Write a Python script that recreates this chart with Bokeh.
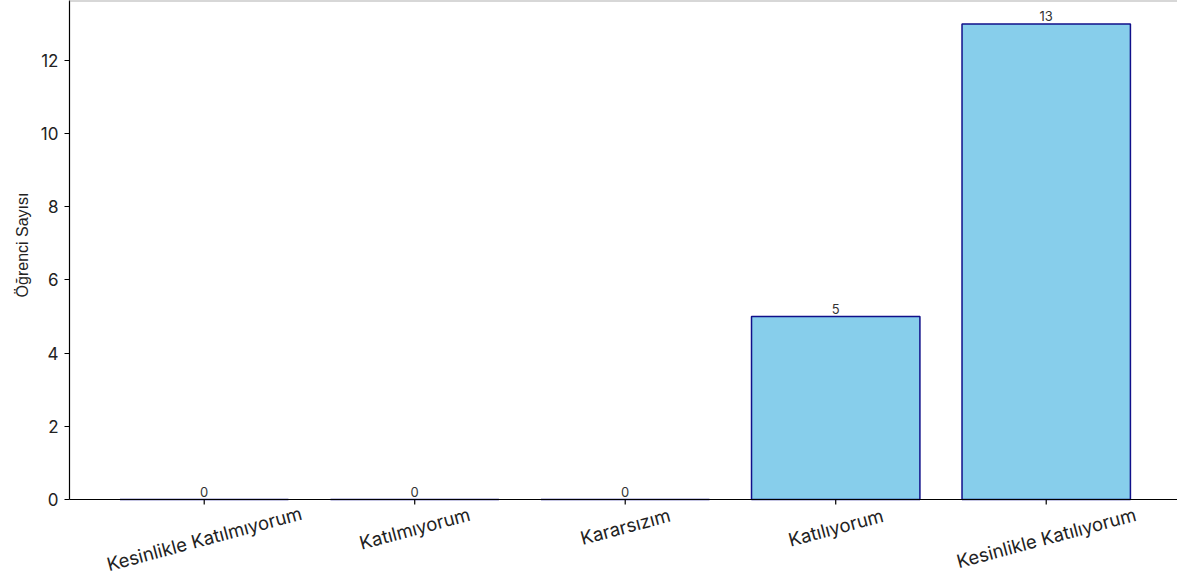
from bokeh.plotting import figure
from bokeh.models import Span, FixedTicker, ColumnDataSource, Range1d, Title
from bokeh.core.properties import value
from bokeh.embed import file_html
from bokeh.resources import INLINE
import math

categories = ["Kesinlikle Katılmıyorum", "Katılmıyorum", "Kararsızım", "Katılıyorum", "Kesinlikle Katılıyorum"]
counts = [0, 0, 0, 5, 13]
y_ticks = [0, 2, 4, 6, 8, 10, 12]
y_title = "Öğrenci Sayısı"

xs = list(range(len(categories)))
src = ColumnDataSource(dict(x=xs, top=counts, label=[str(c) for c in counts]))

Y_END = 13.64
PLOT_H = 499            # px from top of frame to the value 0
FRAME_H = 577
PX_PER_UNIT = PLOT_H / Y_END
Y_START = Y_END - FRAME_H / PX_PER_UNIT
X_START = -0.64
X_PX_PER_UNIT = 210.5

p = figure(output_backend="svg", toolbar_location=None,
           frame_width=1108, frame_height=FRAME_H,
           x_range=Range1d(X_START, X_START + 1108 / X_PX_PER_UNIT), y_range=Range1d(Y_START, Y_END),
           min_border_left=69, min_border_right=0, min_border_top=0, min_border_bottom=0)
p.outline_line_color = None
p.xgrid.grid_line_color = None
p.ygrid.grid_line_color = None
p.xaxis.visible = False

p.vbar(x="x", top="top", bottom=0, width=0.8, source=src,
       fill_color="#87CEEB", line_color="#10108a", line_width=1.5)

p.text(x="x", y="top", text="label", source=src, text_align="center",
       text_baseline="bottom", y_offset=-3, text_font=value("Inter"),
       text_font_size="13px", text_color="#333333")

# spines
p.add_layout(Span(location=Y_END, dimension="width", line_color="#b0b0b0", line_width=2))
p.add_layout(Span(location=0, dimension="width", line_color="black", line_width=1.2))

# x ticks and rotated category labels centred under each tick
p.segment(x0=xs, y0=[0] * len(xs), x1=xs, y1=[-5 / PX_PER_UNIT] * len(xs),
          line_color="black", line_width=1.2)
cat_src = ColumnDataSource(dict(
    x=xs, y=[0] * len(xs), text=categories,
    off=[17.5 + 0.936 * len(c) for c in categories]))
p.text(x="x", y="y", text="text", source=cat_src, y_offset="off",
       angle=math.radians(15), text_align="center", text_baseline="middle",
       text_font=value("Inter"), text_font_size="18.5px", text_color="#222222")

# y axis title, placed beside the 0..top part of the axis
p.add_layout(Title(text=y_title, align="right", offset=192, standoff=13,
                   text_font="Liberation Sans", text_font_size="16px",
                   text_font_style="normal", text_color="#222222"), "left")

p.yaxis.bounds = (0, Y_END)
p.yaxis.minor_tick_line_color = None
p.yaxis.ticker = FixedTicker(ticks=y_ticks)
p.yaxis.axis_line_color = "black"
p.yaxis.axis_line_width = 1.2
p.yaxis.major_tick_line_color = "black"
p.yaxis.major_tick_out = 5
p.yaxis.major_tick_in = 0
p.yaxis.major_label_text_font = "Inter"
p.yaxis.major_label_text_color = "#222222"
p.yaxis.major_label_text_font_size = "17px"
p.yaxis.major_label_standoff = 6

open("out.html", "w").write(file_html(p, INLINE))
